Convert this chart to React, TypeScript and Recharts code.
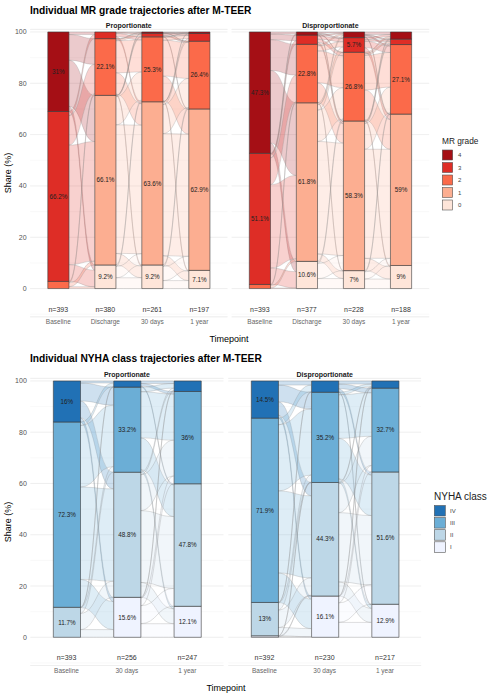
import React from 'react';
import { ComposedChart, Bar, Area, Scatter, XAxis, YAxis, CartesianGrid, LabelList } from 'recharts';

const FONT = '"Liberation Sans", Arial, Helvetica, sans-serif';
const W = 488;
const H = 697;

// ---------------- MR grade ----------------
const MR_GRADES = ['4', '3', '2', '1', '0'];
const MR_COLORS = ['#A50F15', '#DE2D26', '#FB6A4A', '#FCAE91', '#FEE5D9'];
const MR_TIMEPOINTS = ['Baseline', 'Discharge', '30 days', '1 year'];

const MR_PROP_N = [393, 380, 261, 197];
// share (%) per timepoint, strata ordered 4,3,2,1,0
const MR_PROP_SHARES = [
  [31, 66.2, 2.8, 0, 0],
  [0, 2.6, 22.1, 66.1, 9.2],
  [0.5, 1.4, 25.3, 63.6, 9.2],
  [0.6, 3.0, 26.4, 62.9, 7.1],
];
// transitions (percentage points) from row stratum to column stratum
const MR_PROP_FLOW_1 = [
  [0, 1.0, 10, 18, 2.0],
  [0, 1.6, 11.5, 46.6, 6.5],
  [0, 0, 0.6, 1.5, 0.7],
  [0, 0, 0, 0, 0],
  [0, 0, 0, 0, 0],
];
const MR_PROP_FLOW_2 = [
  [0, 0, 0, 0, 0],
  [0.2, 0.4, 1.2, 0.8, 0],
  [0.2, 0.6, 12.5, 8.3, 0.5],
  [0.1, 0.4, 11.0, 50.1, 4.5],
  [0, 0, 0.6, 4.4, 4.2],
];
const MR_PROP_FLOW_3 = [
  [0.2, 0.2, 0.1, 0, 0],
  [0.2, 0.6, 0.4, 0.2, 0],
  [0.1, 1.2, 14.0, 9.6, 0.4],
  [0.1, 1.0, 11.3, 47.6, 3.6],
  [0, 0, 0.6, 5.5, 3.1],
];

const MR_DISP_N = [393, 377, 228, 188];
const MR_DISP_SHARES = [
  [47.3, 51.1, 1.6, 0, 0],
  [1.2, 3.6, 22.8, 61.8, 10.6],
  [2.2, 5.7, 26.8, 58.3, 7.0],
  [2.8, 2.1, 27.1, 59.0, 9.0],
];
const MR_DISP_FLOW_1 = [
  [0.8, 2.2, 12.0, 28.3, 4.0],
  [0.4, 1.4, 10.4, 32.5, 6.4],
  [0, 0, 0.4, 1.0, 0.2],
  [0, 0, 0, 0, 0],
  [0, 0, 0, 0, 0],
];
const MR_DISP_FLOW_2 = [
  [0.4, 0.4, 0.2, 0.2, 0],
  [0.4, 1.2, 1.2, 0.8, 0],
  [0.6, 2.0, 12.4, 7.6, 0.2],
  [0.8, 2.1, 12.2, 43.8, 2.9],
  [0, 0, 0.8, 5.9, 3.9],
];
const MR_DISP_FLOW_3 = [
  [1.0, 0.3, 0.6, 0.3, 0],
  [0.8, 0.6, 2.5, 1.8, 0],
  [0.6, 0.6, 13.5, 11.6, 0.5],
  [0.4, 0.6, 10.0, 42.5, 4.8],
  [0, 0, 0.5, 2.8, 3.7],
];

// ---------------- NYHA class ----------------
const NYHA_CLASSES = ['IV', 'III', 'II', 'I'];
const NYHA_COLORS = ['#2171B5', '#6BAED6', '#BDD7E7', '#EFF3FF'];
const NYHA_TIMEPOINTS = ['Baseline', '30 days', '1 year'];

const NYHA_PROP_N = [393, 256, 247];
const NYHA_PROP_SHARES = [
  [16, 72.3, 11.7, 0],
  [2.4, 33.2, 48.8, 15.6],
  [4.1, 36, 47.8, 12.1],
];
const NYHA_PROP_FLOW_1 = [
  [0.8, 7.0, 6.5, 1.7],
  [1.4, 24.0, 36.0, 10.9],
  [0.2, 2.2, 6.3, 3.0],
  [0, 0, 0, 0],
];
const NYHA_PROP_FLOW_2 = [
  [1.0, 1.0, 0.4, 0],
  [1.8, 18.0, 12.4, 1.0],
  [1.0, 14.0, 28.0, 5.8],
  [0.3, 3.0, 7.0, 5.3],
];

const NYHA_DISP_N = [392, 230, 217];
const NYHA_DISP_SHARES = [
  [14.5, 71.9, 13.0, 0.6],
  [4.4, 35.2, 44.3, 16.1],
  [2.8, 32.7, 51.6, 12.9],
];
const NYHA_DISP_FLOW_1 = [
  [1.6, 6.5, 5.2, 1.2],
  [2.6, 25.8, 32.0, 11.5],
  [0.2, 2.8, 6.8, 3.2],
  [0, 0.1, 0.3, 0.2],
];
const NYHA_DISP_FLOW_2 = [
  [1.2, 1.8, 1.2, 0.2],
  [1.0, 17.0, 15.8, 1.4],
  [0.4, 11.4, 27.0, 5.5],
  [0.2, 2.5, 7.6, 5.8],
];

const Y_TICKS = [0, 20, 40, 60, 80, 100];
const Y_MINOR = [-10, 10, 30, 50, 70, 90];
const Y_DOMAIN: [number, number] = [-11, 101];
const N_LABEL_Y = -8;
const BAR_FRAC = 0.45;
const XAXIS_H = 12;

const fmtPct = (v: any) => {
  const n = Number(v);
  if (!isFinite(n) || n < 5) return '';
  const r = Math.round(n * 10) / 10;
  return (Number.isInteger(r) ? r.toFixed(0) : r.toFixed(1)) + '%';
};

function buildRibbons(shares: number[][], flows: number[][][], hw: number, colors: string[]) {
  const out: { data: any[]; color: string }[] = [];
  flows.forEach((M, i) => {
    const src = shares[i];
    const dst = shares[i + 1];
    const nS = src.length;
    const srcCur: number[] = [];
    const dstCur: number[] = [];
    let acc = 100;
    for (let s = 0; s < nS; s++) { srcCur.push(acc); acc -= src[s]; }
    acc = 100;
    for (let t = 0; t < nS; t++) { dstCur.push(acc); acc -= dst[t]; }
    const sPos: number[][][] = M.map(() => []);
    const dPos: number[][][] = M.map(() => []);
    for (let s = 0; s < nS; s++) {
      for (let t = 0; t < nS; t++) {
        const hi = srcCur[s];
        const lo = hi - M[s][t];
        srcCur[s] = lo;
        sPos[s][t] = [lo, hi];
      }
    }
    for (let t = 0; t < nS; t++) {
      for (let s = 0; s < nS; s++) {
        const hi = dstCur[t];
        const lo = hi - M[s][t];
        dstCur[t] = lo;
        dPos[s][t] = [lo, hi];
      }
    }
    for (let s = 0; s < nS; s++) {
      for (let t = 0; t < nS; t++) {
        if (M[s][t] <= 0) continue;
        out.push({
          color: colors[s],
          data: [
            { x: i + 1 + hw, r: sPos[s][t] },
            { x: i + 2 - hw, r: dPos[s][t] },
          ],
        });
      }
    }
  });
  return out;
}

type Geom = { left: number; right: number; top: number; bottom: number };

function Panel(props: {
  shares: number[][];
  flows: number[][][];
  ns: number[];
  timepoints: string[];
  colors: string[];
  geom: Geom;
  showY: boolean;
}) {
  const { shares, flows, ns, timepoints, colors, geom, showY } = props;
  const nS = colors.length;
  const rows = shares.map((row, i) => {
    const o: any = { x: i + 1 };
    row.forEach((v, j) => { o['k' + j] = v; });
    return o;
  });
  const domain: [number, number] = [0.4, timepoints.length + 0.6];
  const unitPx = (geom.right - geom.left) / (domain[1] - domain[0]);
  const barSize = unitPx * BAR_FRAC;
  const ribbons = buildRibbons(shares, flows, BAR_FRAC / 2, colors);
  const nData = ns.map((n, i) => ({ x: i + 1, y: N_LABEL_Y, label: 'n=' + n }));
  const yW = showY ? 22 : 0;
  const xTicks = timepoints.map((_, i) => i + 1);
  const order = Array.from({ length: nS }, (_, j) => nS - 1 - j);
  return (
    <>
      {/* back layer: grid, axes, flows */}
      <div style={{ position: 'absolute', left: 0, top: 0 }}>
        <ComposedChart
          width={W}
          height={H}
          margin={{ top: geom.top, bottom: H - geom.bottom - XAXIS_H, left: geom.left - yW, right: W - geom.right }}
        >
          <CartesianGrid yAxisId="major" vertical={false} stroke="#ebebeb" strokeWidth={0.8} />
          <CartesianGrid yAxisId="minor" vertical={false} stroke="#f0f0f0" strokeWidth={0.4} />
          <XAxis
            type="number"
            dataKey="x"
            domain={domain}
            allowDataOverflow
            ticks={xTicks}
            interval={0}
            tickFormatter={(v: any) => timepoints[Number(v) - 1] ?? ''}
            axisLine={false}
            tickLine={false}
            tickSize={2}
            tickMargin={1}
            height={XAXIS_H}
            tick={{ fontSize: 6.5, fill: '#666', fontFamily: FONT }}
          />
          <YAxis
            yAxisId="major"
            type="number"
            domain={Y_DOMAIN}
            allowDataOverflow
            ticks={Y_TICKS}
            interval={0}
            width={yW}
            hide={!showY}
            axisLine={false}
            tickLine={false}
            tickSize={2}
            tickMargin={1.5}
            tick={{ fontSize: 7, fill: '#555', fontFamily: FONT }}
          />
          <YAxis yAxisId="minor" type="number" domain={Y_DOMAIN} allowDataOverflow ticks={Y_MINOR} interval={0} hide />
          {ribbons.map((r, idx) => (
            <Area
              key={'rb' + idx}
              yAxisId="major"
              data={r.data}
              dataKey="r"
              type="bumpX"
              fill={r.color}
              fillOpacity={0.22}
              stroke="#8c8c8c"
              strokeOpacity={0.55}
              strokeWidth={0.5}
              dot={false}
              activeDot={false}
              isAnimationActive={false}
            />
          ))}
        </ComposedChart>
      </div>
      {/* front layer: stacked strata and n labels */}
      <div style={{ position: 'absolute', left: 0, top: 0 }}>
        <ComposedChart
          width={W}
          height={H}
          data={rows}
          margin={{ top: geom.top, bottom: H - geom.bottom, left: geom.left, right: W - geom.right }}
        >
          <XAxis type="number" dataKey="x" domain={domain} allowDataOverflow ticks={xTicks} hide />
          <YAxis yAxisId="major" type="number" domain={Y_DOMAIN} allowDataOverflow ticks={Y_TICKS} hide />
          {order.map((j) => (
            <Bar
              key={'b' + j}
              yAxisId="major"
              dataKey={'k' + j}
              stackId="s"
              barSize={barSize}
              fill={colors[j]}
              stroke="#3a3a3a"
              strokeWidth={0.6}
              isAnimationActive={false}
            >
              <LabelList
                dataKey={'k' + j}
                position="center"
                formatter={fmtPct}
                fill="#222"
                fontSize={6.3}
                fontFamily={FONT}
              />
            </Bar>
          ))}
          <Scatter
            yAxisId="major"
            data={nData}
            dataKey="y"
            isAnimationActive={false}
            shape={(p: any) => (
              <text
                x={p.cx}
                y={p.cy}
                textAnchor="middle"
                dominantBaseline="central"
                fontSize={7}
                fill="#333"
                fontFamily={FONT}
              >
                {p.payload.label}
              </text>
            )}
          />
        </ComposedChart>
      </div>
    </>
  );
}

function Legend(props: { title: string; labels: string[]; colors: string[]; x: number; titleY: number; titleSize: number; sw: number; sh: number; top: number; pitch: number; labelX: number }) {
  const { title, labels, colors, x, titleY, titleSize, sw, sh, top, pitch, labelX } = props;
  return (
    <g>
      <text x={x} y={titleY} dominantBaseline="central" fontSize={titleSize} fill="#222" fontFamily={FONT}>{title}</text>
      {labels.map((l, i) => (
        <g key={l}>
          <rect x={x + 0.3} y={top + i * pitch} width={sw} height={sh} fill={colors[i]} stroke="#555" strokeWidth={0.6} />
          <text x={labelX} y={top + i * pitch + sh / 2} dominantBaseline="central" fontSize={6} fill="#444" fontFamily={FONT}>{l}</text>
        </g>
      ))}
    </g>
  );
}

const TL: Geom = { left: 30.1, right: 227.5, top: 29.4, bottom: 316.8 };
const TR: Geom = { left: 231.6, right: 429.2, top: 29.4, bottom: 316.8 };
const BL: Geom = { left: 30.3, right: 223.5, top: 378.4, bottom: 665.5 };
const BR: Geom = { left: 228.3, right: 421.1, top: 378.4, bottom: 665.5 };

export default function App() {
  return (
    <div style={{ position: 'absolute', left: 0, top: 0, width: W, height: H, background: '#fff', fontFamily: FONT }}>
      <Panel shares={MR_PROP_SHARES} flows={[MR_PROP_FLOW_1, MR_PROP_FLOW_2, MR_PROP_FLOW_3]} ns={MR_PROP_N} timepoints={MR_TIMEPOINTS} colors={MR_COLORS} geom={TL} showY />
      <Panel shares={MR_DISP_SHARES} flows={[MR_DISP_FLOW_1, MR_DISP_FLOW_2, MR_DISP_FLOW_3]} ns={MR_DISP_N} timepoints={MR_TIMEPOINTS} colors={MR_COLORS} geom={TR} showY={false} />
      <Panel shares={NYHA_PROP_SHARES} flows={[NYHA_PROP_FLOW_1, NYHA_PROP_FLOW_2]} ns={NYHA_PROP_N} timepoints={NYHA_TIMEPOINTS} colors={NYHA_COLORS} geom={BL} showY />
      <Panel shares={NYHA_DISP_SHARES} flows={[NYHA_DISP_FLOW_1, NYHA_DISP_FLOW_2]} ns={NYHA_DISP_N} timepoints={NYHA_TIMEPOINTS} colors={NYHA_COLORS} geom={BR} showY={false} />
      <svg width={W} height={H} style={{ position: 'absolute', left: 0, top: 0, pointerEvents: 'none' }}>
        <text x={30} y={13.5} fontSize={10.2} fontWeight="bold" fill="#000" fontFamily={FONT}>Individual MR grade trajectories after M-TEER</text>
        <text x={30} y={362} fontSize={10.2} fontWeight="bold" fill="#000" fontFamily={FONT}>Individual NYHA class trajectories after M-TEER</text>
        <text x={(TL.left + TL.right) / 2} y={25} textAnchor="middle" dominantBaseline="central" fontSize={7} fontWeight="bold" fill="#1a1a1a" fontFamily={FONT}>Proportionate</text>
        <text x={(TR.left + TR.right) / 2} y={25} textAnchor="middle" dominantBaseline="central" fontSize={7} fontWeight="bold" fill="#1a1a1a" fontFamily={FONT}>Disproportionate</text>
        <text x={(BL.left + BL.right) / 2} y={374} textAnchor="middle" dominantBaseline="central" fontSize={7} fontWeight="bold" fill="#1a1a1a" fontFamily={FONT}>Proportionate</text>
        <text x={(BR.left + BR.right) / 2} y={374} textAnchor="middle" dominantBaseline="central" fontSize={7} fontWeight="bold" fill="#1a1a1a" fontFamily={FONT}>Disproportionate</text>
        <text transform="translate(8.3,173) rotate(-90)" textAnchor="middle" dominantBaseline="central" fontSize={9} fill="#000" fontFamily={FONT}>Share (%)</text>
        <text transform="translate(8.3,522) rotate(-90)" textAnchor="middle" dominantBaseline="central" fontSize={9} fill="#000" fontFamily={FONT}>Share (%)</text>
        <text x={229} y={339} textAnchor="middle" dominantBaseline="central" fontSize={9} fill="#000" fontFamily={FONT}>Timepoint</text>
        <text x={226} y={688} textAnchor="middle" dominantBaseline="central" fontSize={9} fill="#000" fontFamily={FONT}>Timepoint</text>
        <Legend title="MR grade" labels={MR_GRADES} colors={MR_COLORS} x={442} titleY={141} titleSize={8.3} sw={10.4} sh={10} top={150} pitch={12.5} labelX={458} />
        <Legend title="NYHA class" labels={NYHA_CLASSES} colors={NYHA_COLORS} x={434} titleY={496} titleSize={10} sw={11} sh={10.5} top={505.5} pitch={12.1} labelX={450} />
      </svg>
    </div>
  );
}
